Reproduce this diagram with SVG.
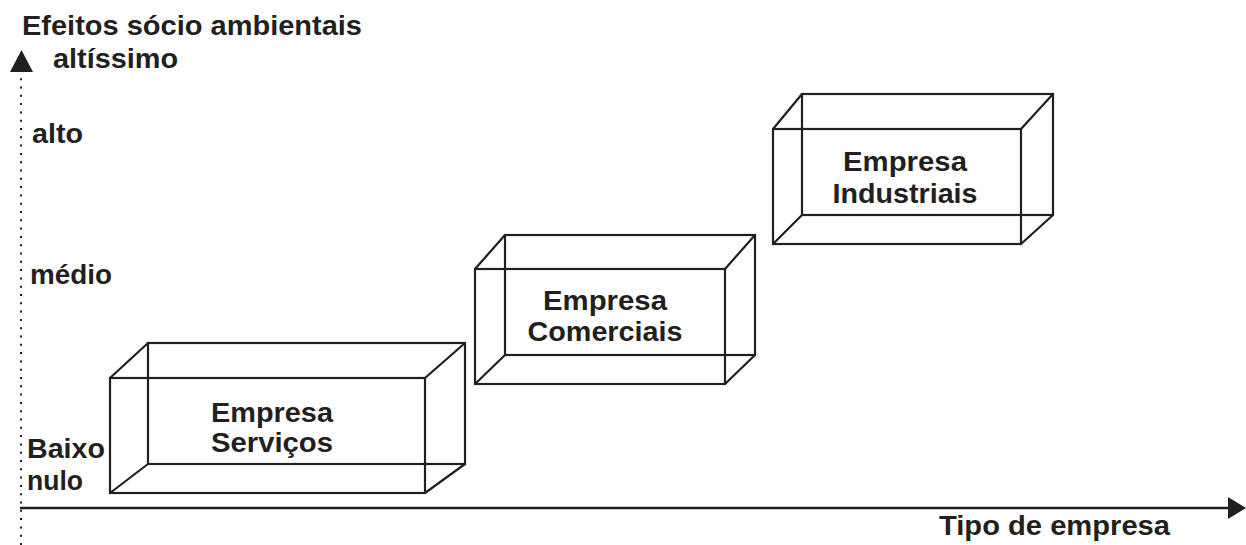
<svg xmlns="http://www.w3.org/2000/svg" width="1246" height="545" viewBox="0 0 1246 545">
<style>
  .t{font-family:"Liberation Sans",Arial,sans-serif;font-weight:bold;font-size:27px;fill:#231f20}
  .c{text-anchor:middle}
  .box{fill:none;stroke:#231f20;stroke-width:2.2}
  .axis{stroke:#231f20;fill:none}
</style>
<rect width="1246" height="545" fill="#fff"/>
<g id="connectors">
  <line class="axis" x1="21" y1="545" x2="21" y2="73" stroke-width="2" stroke-dasharray="2 6.3"/>
  <polygon points="10,72 33,72 21.5,50" fill="#231f20"/>
  <line class="axis" x1="20" y1="508" x2="1232" y2="508" stroke-width="2.5"/>
  <polygon points="1228,497 1246,508 1228,519" fill="#231f20"/>
</g>
<g id="labels">
  <text class="t" x="22" y="35" textLength="340" lengthAdjust="spacingAndGlyphs">Efeitos sócio ambientais</text>
  <text class="t" x="53" y="68" textLength="125" lengthAdjust="spacingAndGlyphs">altíssimo</text>
  <text class="t" x="32" y="143" textLength="51" lengthAdjust="spacingAndGlyphs">alto</text>
  <text class="t" x="30" y="284" textLength="82" lengthAdjust="spacingAndGlyphs">médio</text>
  <text class="t" x="27" y="458" textLength="78" lengthAdjust="spacingAndGlyphs">Baixo</text>
  <text class="t" x="27" y="490" textLength="56" lengthAdjust="spacingAndGlyphs">nulo</text>
  <text class="t" x="939" y="535" textLength="231" lengthAdjust="spacingAndGlyphs">Tipo de empresa</text>
</g>
<g id="node-servicos">
  <rect class="box" x="110" y="378" width="315" height="115"/>
  <rect class="box" x="148" y="343" width="317" height="121"/>
  <path class="box" d="M110,378 L148,343 M425,378 L465,343 M110,493 L148,464 M425,493 L465,464"/>
  <text class="t c" x="272" y="422" textLength="122" lengthAdjust="spacingAndGlyphs">Empresa</text>
  <text class="t c" x="272" y="452" textLength="122" lengthAdjust="spacingAndGlyphs">Serviços</text>
</g>
<g id="node-comerciais">
  <rect class="box" x="475" y="269" width="250" height="115"/>
  <rect class="box" x="505" y="235" width="250" height="120"/>
  <path class="box" d="M475,269 L505,235 M725,269 L755,235 M475,384 L505,355 M725,384 L755,355"/>
  <text class="t c" x="605" y="310" textLength="124" lengthAdjust="spacingAndGlyphs">Empresa</text>
  <text class="t c" x="605" y="341" textLength="155" lengthAdjust="spacingAndGlyphs">Comerciais</text>
</g>
<g id="node-industriais">
  <rect class="box" x="773" y="129" width="248" height="115"/>
  <rect class="box" x="802" y="94" width="251" height="121"/>
  <path class="box" d="M773,129 L802,94 M1021,129 L1053,94 M773,244 L802,215 M1021,244 L1053,215"/>
  <text class="t c" x="905" y="171" textLength="124" lengthAdjust="spacingAndGlyphs">Empresa</text>
  <text class="t c" x="905" y="203" textLength="145" lengthAdjust="spacingAndGlyphs">Industriais</text>
</g>
</svg>
